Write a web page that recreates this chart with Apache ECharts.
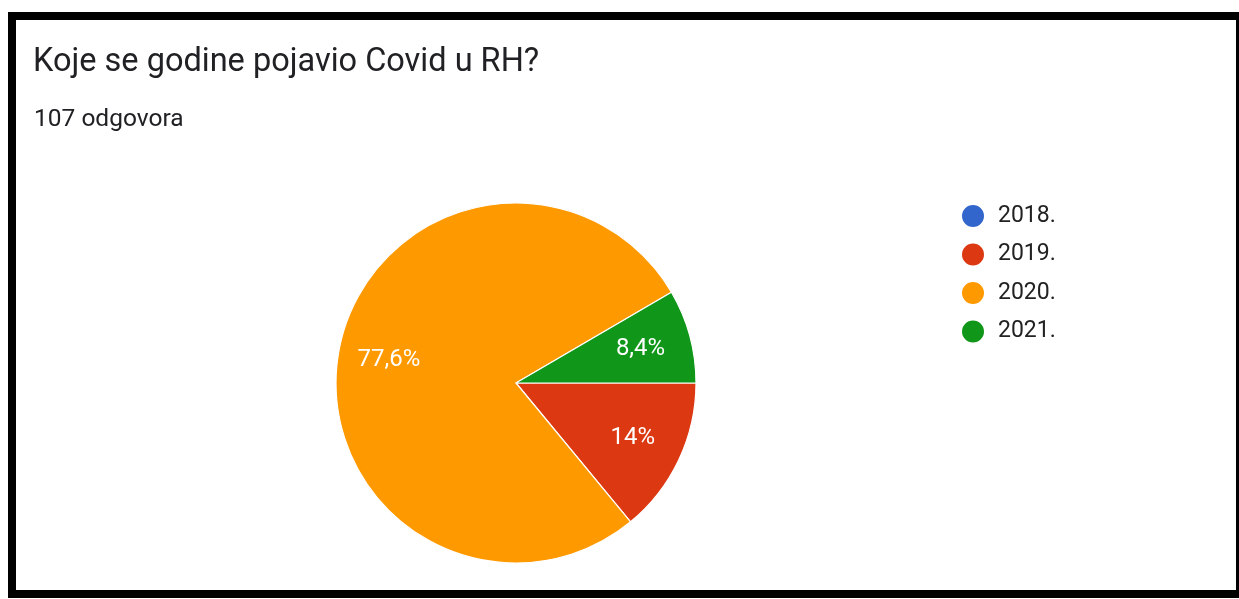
<!DOCTYPE html>
<html>
<head>
<meta charset="utf-8">
<script src="https://cdn.jsdelivr.net/npm/echarts@6/dist/echarts.min.js"></script>
<style>
  html, body { margin: 0; padding: 0; background: #fff; }
  #chart { position: absolute; left: 0; top: 0; width: 1239px; height: 599px; }
  #frame { position: absolute; left: 8px; top: 12px; width: 1220px; height: 570px;
           border: 8px solid #000; pointer-events: none; }
</style>
</head>
<body>
<div id="chart"></div>
<div id="frame"></div>
<script>
const titleText = 'Koje se godine pojavio Covid u RH?';
const subtitleText = '107 odgovora';
const categories = ['2018.', '2019.', '2020.', '2021.'];
const counts = [0, 15, 83, 9];
const colors = ['#3366cc', '#dc3912', '#ff9900', '#109618'];

const total = counts.reduce((a, b) => a + b, 0);
function pctLabel(v) {
  if (!v) return '';
  let s = (v / total * 100).toFixed(1);
  if (s.endsWith('.0')) s = s.slice(0, -2);
  return s.replace('.', ',') + '%';
}
const pieData = categories.map((c, i) => ({ name: c, value: counts[i], itemStyle: { color: colors[i] } }));
const labelData = categories.map((c, i) => ({ name: c, value: counts[i] }));

const chart = echarts.init(document.getElementById('chart'), null, { renderer: 'canvas' });
chart.setOption({
  animation: false,
  title: [
    { text: titleText, left: 33, top: 46, padding: 0,
      textStyle: { fontFamily: 'Roboto', fontSize: 32.5, fontWeight: 'normal', color: '#202124' } },
    { text: subtitleText, left: 34, top: 107, padding: 0,
      textStyle: { fontFamily: 'Roboto', fontSize: 24.5, fontWeight: 'normal', color: '#202124' } }
  ],
  legend: {
    orient: 'vertical', left: 960, top: 203, padding: 0,
    icon: 'circle', itemWidth: 24, itemHeight: 24, itemGap: 12.5,
    data: categories,
    textStyle: { fontFamily: 'Roboto', fontSize: 23, lineHeight: 24, color: '#222222', padding: [0, 0, 0, 8] }
  },
  series: [
    {
      type: 'pie', center: [516, 383], radius: 180,
      startAngle: 0, clockwise: true, minAngle: 0,
      avoidLabelOverlap: false, silent: true,
      data: pieData,
      itemStyle: { borderColor: '#ffffff', borderWidth: 1.2 },
      label: { show: false }, labelLine: { show: false },
      emphasis: { disabled: true }
    },
    {
      type: 'pie', center: [516, 383], radius: 252,
      startAngle: 0, clockwise: true, silent: true,
      avoidLabelOverlap: false,
      data: labelData,
      itemStyle: { color: 'transparent', borderWidth: 0 },
      label: { show: true, position: 'inside', color: '#ffffff',
               fontFamily: 'Roboto', fontSize: 24,
               formatter: p => pctLabel(p.value) },
      labelLine: { show: false },
      emphasis: { disabled: true }
    }
  ]
});
</script>
</body>
</html>
